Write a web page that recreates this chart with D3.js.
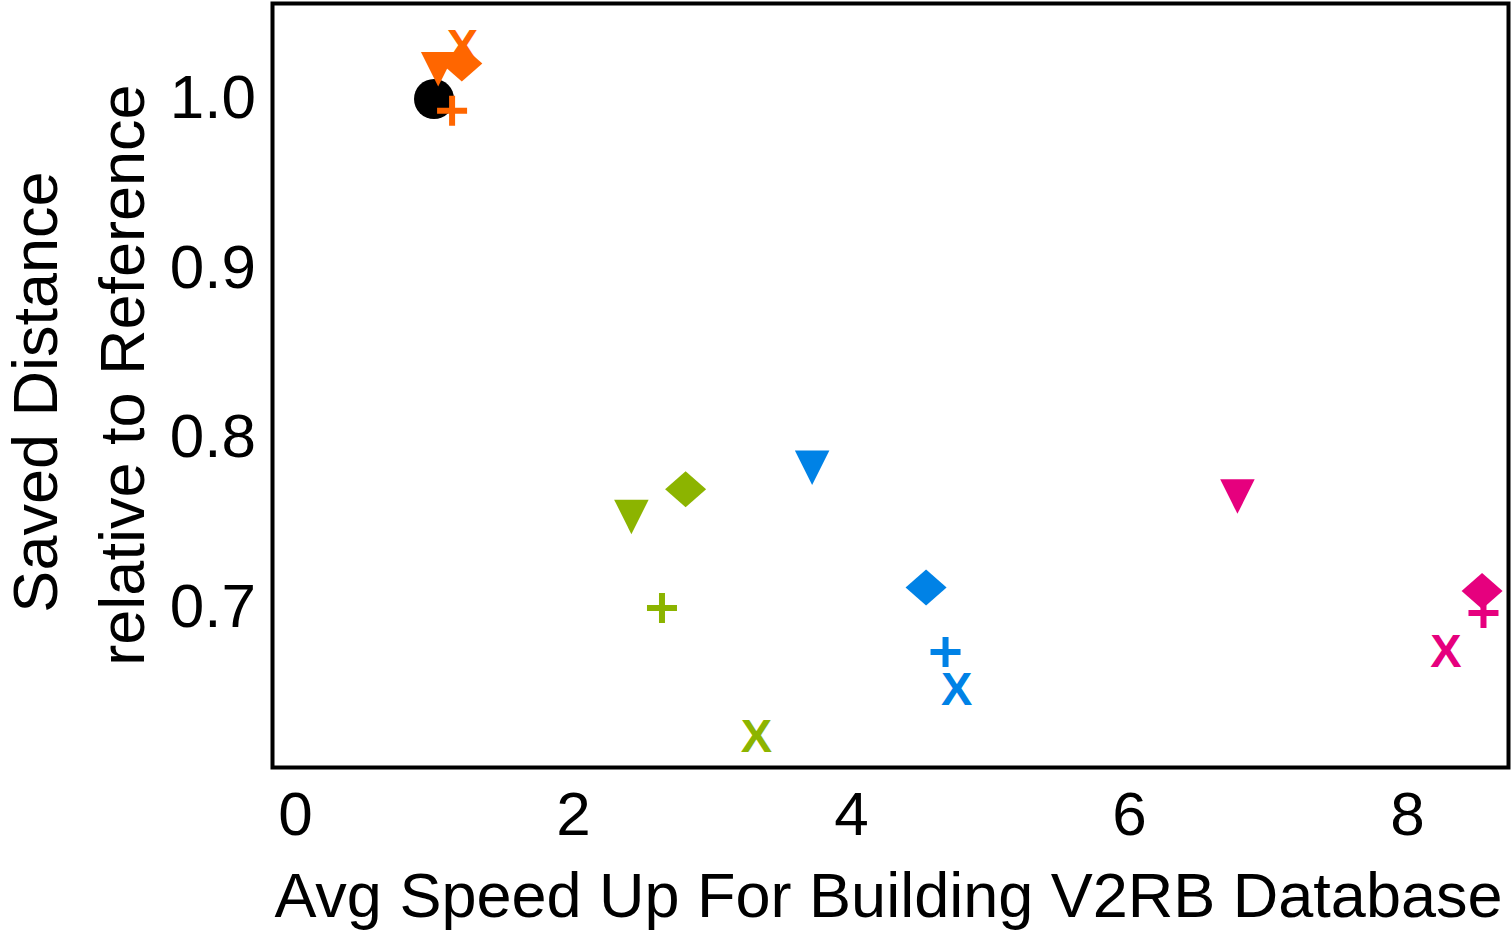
<!DOCTYPE html>
<html>
<head>
<meta charset="utf-8">
<script src="https://cdn.jsdelivr.net/npm/d3@7"></script>
<style>
  body { margin: 0; background: #fff; }
  svg { display: block; font-family: "Liberation Sans", Arial, sans-serif; }
</style>
</head>
<body>
<svg class="d3-content"></svg>
<script>
//data
const groupColors = ["#FF6600", "#8CB400", "#0082E6", "#E6007E"]

const refSpeed = [1.0]
const refDist = [1.0]

const triSpeed = [1.03, 2.42, 3.72, 6.78]
const triDist = [1.021, 0.757, 0.786, 0.769]

const diamondSpeed = [1.20, 2.81, 4.54, 8.54]
const diamondDist = [1.021, 0.770, 0.712, 0.710]

const plusSpeed = [1.13, 2.64, 4.68, 8.55]
const plusDist = [0.993, 0.700, 0.674, 0.697]

const xSpeed = [1.205, 3.32, 4.76, 8.28]
const xDist = [1.032, 0.625, 0.653, 0.675]

const xTicks = [0, 2, 4, 6, 8]
const yTicks = [0.7, 0.8, 0.9, 1.0]

//dimensions
const w = 1511
const h = 933
const plot = { left: 272.5, right: 1508.5, top: 3.5, bottom: 767.5 }

const svg = d3.select('.d3-content')
    .attr('width', w)
    .attr('height', h)

//scales
const xScale = d3.scaleLinear()
    .domain([-0.162, 8.73])
    .range([plot.left, plot.right])
const yScale = d3.scaleLinear()
    .domain([0.6059, 1.0563])
    .range([plot.bottom, plot.top])

//axes (no tick marks, labels only)
const xAxis = d3.axisBottom(xScale).tickValues(xTicks).tickSize(0).tickFormat(d3.format('d'))
const gx = svg.append('g')
    .attr('transform', 'translate(0, 835)')
    .call(xAxis)
gx.select('.domain').remove()
gx.selectAll('text')
    .attr('y', 0).attr('dy', null)
    .attr('fill', '#000')
    .style('font-size', '62px')
    .style('font-family', '"Liberation Sans", Arial, sans-serif')

const yAxis = d3.axisLeft(yScale).tickValues(yTicks).tickSize(0).tickFormat(d3.format('.1f'))
const gy = svg.append('g')
    .attr('transform', 'translate(256, 0)')
    .call(yAxis)
gy.select('.domain').remove()
gy.selectAll('text')
    .attr('x', 0).attr('dy', null).attr('y', 18.5)
    .attr('fill', '#000')
    .style('font-size', '62px')
    .style('font-family', '"Liberation Sans", Arial, sans-serif')

//labels
svg.append('text')
    .attr('x', (plot.left + plot.right) / 2 - 2)
    .attr('y', 917)
    .attr('text-anchor', 'middle')
    .style('font-size', '63px')
    .text('Avg Speed Up For Building V2RB Database')

svg.append('text')
    .attr('transform', 'translate(57, 392) rotate(-90)')
    .attr('text-anchor', 'middle')
    .style('font-size', '63px')
    .text('Saved Distance')

svg.append('text')
    .attr('transform', 'translate(144, 375) rotate(-90)')
    .attr('text-anchor', 'middle')
    .style('font-size', '63px')
    .text('relative to Reference')

//markers
const pts = svg.append('g')

pts.selectAll('circle.ref')
    .data(refSpeed)
    .join('circle')
    .attr('class', 'ref')
    .attr('cx', d => xScale(d))
    .attr('cy', (d, i) => yScale(refDist[i]))
    .attr('r', 20)
    .attr('fill', '#000')

const triPath = 'M-17.25,-11.5L17.25,-11.5L0,23Z'
pts.selectAll('path.tri')
    .data(triSpeed)
    .join('path')
    .attr('class', 'tri')
    .attr('d', triPath)
    .attr('transform', (d, i) => `translate(${xScale(d)}, ${yScale(triDist[i])})`)
    .attr('fill', (d, i) => groupColors[i])

const diamondPath = 'M0,-18L20.5,0L0,18L-20.5,0Z'
pts.selectAll('path.diamond')
    .data(diamondSpeed)
    .join('path')
    .attr('class', 'diamond')
    .attr('d', diamondPath)
    .attr('transform', (d, i) => `translate(${xScale(d)}, ${yScale(diamondDist[i])})`)
    .attr('fill', (d, i) => groupColors[i])

const plusPath = 'M-15,0L15,0M0,-15L0,15'
pts.selectAll('path.plus')
    .data(plusSpeed)
    .join('path')
    .attr('class', 'plus')
    .attr('d', plusPath)
    .attr('transform', (d, i) => `translate(${xScale(d)}, ${yScale(plusDist[i])})`)
    .attr('fill', 'none')
    .attr('stroke', (d, i) => groupColors[i])
    .attr('stroke-width', 6)

pts.selectAll('text.xmark')
    .data(xSpeed)
    .join('text')
    .attr('class', 'xmark')
    .attr('x', d => xScale(d))
    .attr('y', (d, i) => yScale(xDist[i]) + 17)
    .attr('text-anchor', 'middle')
    .style('font-size', '47px')
    .style('font-weight', 'bold')
    .attr('fill', (d, i) => groupColors[i])
    .text('X')

//frame
svg.append('rect')
    .attr('x', plot.left)
    .attr('y', plot.top)
    .attr('width', plot.right - plot.left)
    .attr('height', plot.bottom - plot.top)
    .attr('fill', 'none')
    .attr('stroke', '#000')
    .attr('stroke-width', 4)
</script>
</body>
</html>
